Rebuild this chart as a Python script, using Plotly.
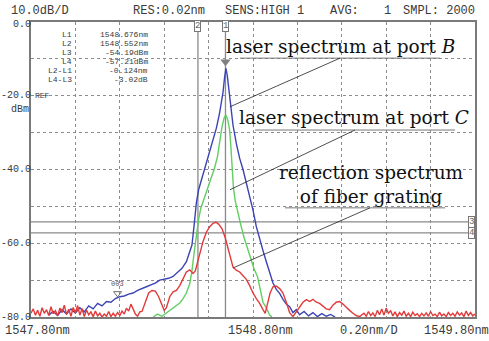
import plotly.graph_objects as go

# ---------------- data ----------------
blue_nm = [1547.88, 1547.90, 1547.92, 1547.94, 1547.96, 1547.98, 1548.00, 1548.02, 1548.04, 1548.06,
           1548.08, 1548.10, 1548.12, 1548.14, 1548.16, 1548.18, 1548.20, 1548.22, 1548.24, 1548.26,
           1548.28, 1548.30, 1548.32, 1548.34, 1548.36, 1548.38, 1548.40, 1548.42, 1548.44, 1548.46,
           1548.48, 1548.50, 1548.515, 1548.525, 1548.535, 1548.545, 1548.555, 1548.575, 1548.595, 1548.615,
           1548.635, 1548.65, 1548.665, 1548.672, 1548.678, 1548.684, 1548.692, 1548.70, 1548.71, 1548.725,
           1548.74, 1548.755, 1548.77, 1548.785, 1548.80, 1548.815, 1548.83, 1548.845, 1548.86, 1548.875,
           1548.89, 1548.905, 1548.92, 1548.935, 1548.95, 1548.965, 1548.98, 1548.995, 1549.01, 1549.03,
           1549.05, 1549.07, 1549.09, 1549.11, 1549.13, 1549.15, 1549.17]
blue_db = [-79.5, -78.5, -79.6, -78.0, -79.2, -77.8, -78.9, -77.5, -78.6, -77.0,
           -77.8, -76.3, -77.0, -75.8, -76.0, -75.0, -74.5, -74.3, -73.8, -73.5,
           -72.8, -72.4, -71.8, -71.3, -70.8, -70.0, -69.8, -69.5, -69.0, -68.0,
           -66.8, -65.0, -62.5, -60.5, -55.0, -49.0, -45.5, -41.5, -37.2, -33.0,
           -28.8, -24.5, -19.0, -15.0, -12.6, -14.5, -18.5, -23.0, -28.0, -33.0,
           -37.0, -40.0, -43.8, -47.0, -51.0, -55.5, -59.0, -62.0, -65.0, -68.0,
           -70.8, -72.5, -73.6, -75.2, -76.5, -77.2, -78.8, -78.0, -79.4, -78.5,
           -79.7, -78.8, -79.9, -79.1, -79.8, -79.3, -80.0]

green_nm = [1548.35, 1548.37, 1548.39, 1548.41, 1548.425, 1548.44, 1548.455, 1548.47, 1548.485, 1548.50,
            1548.515, 1548.525, 1548.535, 1548.545, 1548.555, 1548.565, 1548.58, 1548.595, 1548.61, 1548.625,
            1548.64, 1548.65, 1548.66, 1548.67, 1548.678, 1548.686, 1548.694, 1548.70, 1548.706, 1548.712,
            1548.72, 1548.73, 1548.745, 1548.76, 1548.775, 1548.79, 1548.805, 1548.82, 1548.832, 1548.845,
            1548.86, 1548.875, 1548.885]
green_db = [-80.0, -79.2, -79.8, -78.9, -78.2, -77.6, -77.0, -76.2, -75.0, -73.5,
            -71.0, -67.5, -62.5, -57.5, -53.5, -50.5, -47.5, -45.2, -42.5, -40.0,
            -36.5, -32.5, -28.5, -26.0, -25.2, -26.5, -29.0, -33.5, -39.0, -45.0,
            -48.5, -51.5, -55.0, -58.5, -61.5, -64.5, -67.0, -69.0, -72.5, -76.0,
            -77.5, -79.5, -80.0]

red_nm = [1547.80, 1547.81, 1547.82, 1547.83, 1547.84, 1547.85, 1547.86, 1547.87, 1547.88, 1547.89,
          1547.90, 1547.91, 1547.92, 1547.93, 1547.94, 1547.95, 1547.96, 1547.97, 1547.98, 1547.99,
          1548.00, 1548.01, 1548.02, 1548.03, 1548.04, 1548.05, 1548.06, 1548.07, 1548.08, 1548.09,
          1548.10, 1548.11, 1548.12, 1548.13, 1548.14, 1548.15, 1548.16, 1548.17, 1548.18, 1548.19,
          1548.20, 1548.21, 1548.22, 1548.23, 1548.24, 1548.25, 1548.26, 1548.27, 1548.28, 1548.29,
          1548.30, 1548.315, 1548.33, 1548.345, 1548.36, 1548.375, 1548.39, 1548.40, 1548.41, 1548.425,
          1548.44, 1548.455, 1548.47, 1548.485, 1548.50, 1548.515, 1548.53, 1548.54, 1548.55, 1548.56,
          1548.575, 1548.59, 1548.605, 1548.62, 1548.633, 1548.645, 1548.66, 1548.675, 1548.69, 1548.70,
          1548.71, 1548.725, 1548.74, 1548.755, 1548.77, 1548.785, 1548.80, 1548.815, 1548.83, 1548.845,
          1548.855, 1548.865, 1548.877, 1548.89, 1548.905, 1548.92, 1548.935, 1548.95, 1548.965, 1548.98,
          1548.995, 1549.01, 1549.025, 1549.04, 1549.055, 1549.07, 1549.085, 1549.10, 1549.115, 1549.13,
          1549.145, 1549.16, 1549.175, 1549.19, 1549.205, 1549.22, 1549.235, 1549.25, 1549.265, 1549.28,
          1549.30, 1549.31, 1549.32, 1549.33, 1549.34, 1549.35, 1549.36, 1549.37, 1549.38, 1549.39,
          1549.40, 1549.41, 1549.42, 1549.43, 1549.44, 1549.45, 1549.46, 1549.47, 1549.48, 1549.49,
          1549.50, 1549.51, 1549.52, 1549.53, 1549.54, 1549.55, 1549.56, 1549.57, 1549.58, 1549.59,
          1549.60, 1549.61, 1549.62, 1549.63, 1549.64, 1549.65, 1549.66, 1549.67, 1549.68, 1549.69,
          1549.70, 1549.71, 1549.72, 1549.73, 1549.74, 1549.75, 1549.76, 1549.77, 1549.78, 1549.79,
          1549.80]
red_db = [-79.0, -77.8, -79.5, -78.2, -79.8, -77.5, -79.0, -78.0, -79.6, -77.2,
          -79.1, -78.3, -79.7, -77.6, -78.8, -76.8, -79.3, -77.9, -79.8, -77.4,
          -78.9, -76.9, -79.5, -77.7, -79.9, -78.1, -79.4, -78.6, -79.9, -78.4,
          -79.7, -79.0, -80.0, -79.2, -79.8, -78.5, -79.9, -79.0, -79.8, -78.8,
          -79.6, -78.4, -79.2, -77.6, -78.4, -76.5, -77.8, -79.2, -79.8, -78.6,
          -78.5, -76.0, -73.5, -72.8, -73.0, -74.5, -77.0, -78.2, -77.5, -74.5,
          -73.2, -72.8, -71.5, -69.5, -67.8, -67.2, -68.2, -67.5, -65.0, -62.5,
          -59.5, -57.0, -55.5, -54.6, -54.3, -54.8, -56.0, -58.5, -62.0, -64.8,
          -66.5, -67.3, -67.8, -68.8, -69.8, -71.5, -73.5, -75.0, -76.3, -78.0,
          -79.0, -76.5, -73.5, -71.8, -71.6, -72.3, -73.5, -76.0, -78.8, -79.9,
          -78.5, -77.2, -76.0, -75.3, -75.8, -75.2, -76.0, -76.3, -77.0, -77.8,
          -78.0, -76.8, -76.0, -75.8, -76.5, -77.5, -78.2, -79.0, -79.6, -79.9,
          -79.0, -79.8, -78.5, -79.6, -78.9, -79.9, -78.2, -79.4, -77.8, -79.5,
          -77.6, -79.0, -78.3, -79.7, -78.6, -79.9, -78.8, -79.5, -78.4, -79.8,
          -79.0, -79.9, -78.7, -79.6, -79.1, -79.9, -79.0, -79.7, -78.9, -79.8,
          -78.5, -79.6, -79.2, -79.9, -78.7, -79.7, -79.2, -79.9, -78.8, -79.6,
          -79.0, -79.8, -78.6, -79.5, -78.9, -79.9, -78.4, -79.6, -78.8, -79.7,
          -79.2]

# marker readouts
marker_names = ["L1", "L2", "L3", "L4", "L2-L1", "L4-L3"]
marker_values = ["1548.676nm", "1548.552nm", "-54.19dBm", "-57.21dBm", "-0.124nm", "-3.02dB"]
L1, L2, L3, L4 = 1548.676, 1548.552, -54.19, -57.21

y_tick_vals = [0, -20, -40, -60, -80]
y_tick_text = ["0.0", "-20.0", "-40.0", "-60.0", "-80.0"]
x_range = [1547.80, 1549.80]
y_range = [-80, 0]

header_items = [("10.0dB/D", 40), ("RES:0.02nm", 169), ("SENS:HIGH 1", 264),
                ("AVG:", 344), ("1", 387), ("SMPL: 2000", 439)]
bottom_items = [("1547.80nm", 37), ("1548.80nm", 260), ("0.20nm/D", 369), ("1549.80nm", 456)]

# callouts: (text, x, y) and (underline x0, x1, y), (leader from, to)
callouts = [
    ("laser spectrum at port <i>B</i>", 1549.196, -6.6, 1548.741, 1549.642, -9.8, (1548.696, -23.0), (1549.192, -9.8)),
    ("laser spectrum at port <i>C</i>", 1549.255, -25.8, 1548.809, 1549.710, -29.3, (1548.696, -45.5), (1549.259, -29.3)),
    ("reflection spectrum<br>of fiber grating", 1549.336, -44.0, 1548.944, 1549.665, -50.4, (1548.710, -66.7), (1549.327, -50.4)),
]

# ---------------- figure ----------------
W, H = 489, 341
ML, MR, MT, MB = 31, 14, 22, 24
PW, PH = W - ML - MR, H - MT - MB


def px(xp):
    return (xp - ML) / PW


def py(yp):
    return (H - MB - yp) / PH


mono = "Liberation Mono"
txtc = "#3a3a3a"

fig = go.Figure()
fig.add_trace(go.Scatter(x=blue_nm, y=blue_db, mode="lines",
                         line=dict(color="#3c44b4", width=1.4), hoverinfo="skip"))
fig.add_trace(go.Scatter(x=green_nm, y=green_db, mode="lines",
                         line=dict(color="#62cd62", width=1.4), hoverinfo="skip"))
fig.add_trace(go.Scatter(x=red_nm, y=red_db, mode="lines",
                         line=dict(color="#e23a3a", width=1.4), hoverinfo="skip"))
# peak marker and 003 marker
fig.add_trace(go.Scatter(x=[L1], y=[-10.8], mode="markers",
                         marker=dict(symbol="triangle-down", size=9, color="#808080"), hoverinfo="skip"))
fig.add_trace(go.Scatter(x=[1548.19], y=[-73.6], mode="markers",
                         marker=dict(symbol="triangle-down-open", size=7, color="#707070"), hoverinfo="skip"))

shapes = []
# marker lines
for xv in (L1, L2):
    shapes.append(dict(type="line", xref="x", yref="y", x0=xv, x1=xv, y0=-80, y1=-2.2,
                       line=dict(color="#8a8a8a", width=1.3), layer="below"))
for yv in (L3, L4):
    shapes.append(dict(type="line", xref="x", yref="y", x0=1547.80, x1=1549.77, y0=yv, y1=yv,
                       line=dict(color="#8a8a8a", width=1.3), layer="below"))

annotations = []
for text, x, y, ux0, ux1, uy, p0, p1 in callouts:
    annotations.append(dict(text=text, x=x, y=y, xref="x", yref="y", showarrow=False,
                            font=dict(family="DejaVu Serif", size=18.5, color="#111"),
                            xanchor="center", yanchor="middle", align="center"))
    shapes.append(dict(type="line", xref="x", yref="y", x0=ux0, x1=ux1, y0=uy, y1=uy,
                       line=dict(color="#777", width=1)))
    shapes.append(dict(type="line", xref="x", yref="y", x0=p0[0], y0=p0[1], x1=p1[0], y1=p1[1],
                       line=dict(color="#222", width=0.8)))

# boxed marker labels
for lab, xv in (("2", L2), ("1", L1)):
    annotations.append(dict(text=lab, x=xv, y=-1.2, xref="x", yref="y", showarrow=False,
                            font=dict(family=mono, size=9, color="#666"), bgcolor="white",
                            bordercolor="#777", borderwidth=1, borderpad=0))
for lab, yv in (("3", L3), ("4", L4)):
    annotations.append(dict(text=lab, x=1549.785, y=yv, xref="x", yref="y", showarrow=False,
                            font=dict(family=mono, size=9, color="#666"), bgcolor="white",
                            bordercolor="#777", borderwidth=1, borderpad=0))
annotations.append(dict(text="003", x=1548.19, y=-71.0, xref="x", yref="y", showarrow=False,
                        font=dict(family=mono, size=7, color="#555")))

# readout block
row_y = [34.5, 43.5, 52.5, 61.5, 70.5, 79.5]
for name, val, ry in zip(marker_names, marker_values, row_y):
    annotations.append(dict(text=name, x=px(73), y=py(ry), xref="paper", yref="paper", showarrow=False,
                            xanchor="right", yanchor="middle", borderpad=0,
                            font=dict(family=mono, size=8, color=txtc)))
    annotations.append(dict(text=val, x=px(149), y=py(ry), xref="paper", yref="paper", showarrow=False,
                            xanchor="right", yanchor="middle", borderpad=0,
                            font=dict(family=mono, size=8, color=txtc)))

# y tick labels
for v, t in zip(y_tick_vals, y_tick_text):
    yy = -0.8 if v == 0 else v
    annotations.append(dict(text=t, x=px(33), y=yy, xref="paper", yref="y", showarrow=False,
                            xanchor="right", yanchor="middle", font=dict(family=mono, size=10, color=txtc)))
annotations.append(dict(text="REF", x=px(33), y=-20, xref="paper", yref="y", showarrow=False,
                        xanchor="left", yanchor="middle", font=dict(family=mono, size=8, color=txtc)))
annotations.append(dict(text="dBm", x=px(20), y=py(109), xref="paper", yref="paper", showarrow=False,
                        xanchor="center", yanchor="middle", font=dict(family=mono, size=10, color=txtc)))

for t, cx in header_items:
    annotations.append(dict(text=t, x=px(cx), y=py(11), xref="paper", yref="paper", showarrow=False,
                            xanchor="center", yanchor="middle", font=dict(family=mono, size=12, color=txtc)))
for t, cx in bottom_items:
    annotations.append(dict(text=t, x=px(cx), y=py(331), xref="paper", yref="paper", showarrow=False,
                            xanchor="center", yanchor="middle", font=dict(family=mono, size=12, color=txtc)))

fig.update_layout(width=W, height=H, margin=dict(l=ML, r=MR, t=MT, b=MB),
                  paper_bgcolor="white", plot_bgcolor="white", showlegend=False,
                  shapes=shapes, annotations=annotations)
fig.update_xaxes(range=x_range, tick0=1547.8, dtick=0.2, showgrid=True, gridcolor="#8c8c8c",
                 gridwidth=1, griddash="dot", showline=True, mirror=True, linecolor="#7a7a7a",
                 linewidth=1.5, showticklabels=False, ticks="", zeroline=False)
fig.update_yaxes(range=y_range, tick0=-80, dtick=10, showgrid=True, gridcolor="#8c8c8c",
                 gridwidth=1, griddash="dot", showline=True, mirror=True, linecolor="#7a7a7a",
                 linewidth=1.5, showticklabels=False, ticks="", zeroline=False)

fig.write_html("out.html", config={"displayModeBar": False},
               post_script="document.body.style.margin='0px';")
